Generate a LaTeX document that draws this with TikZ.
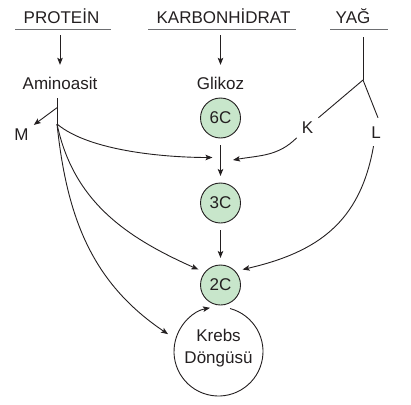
\documentclass[tikz,border=0pt]{standalone}
\usepackage{fontspec}
\setmainfont{Liberation Sans}
\usetikzlibrary{arrows.meta,positioning}
\definecolor{ink}{HTML}{231F20}
\definecolor{rulegray}{HTML}{6D6E71}
\definecolor{leaf}{HTML}{C8E6CB}

\begin{document}
\begin{tikzpicture}[x=1pt,y=1pt,
font=\fontsize{17}{21.6}\selectfont,text=ink,
head/.style={anchor=base,inner sep=0pt,text height=12pt,text depth=0pt},
lbl/.style={anchor=base,inner sep=0pt,text height=12pt,text depth=0pt},
tag/.style={inner sep=5pt,text height=12pt,text depth=0pt},
kreb/.style={align=center,inner sep=0pt},
circ/.style={circle,draw=ink,fill=leaf,line width=0.9pt,minimum size=40pt,
inner sep=0pt,outer sep=7pt},
bar/.style={draw=rulegray,line width=1.3pt},
wire/.style={draw=ink,line width=0.9pt},
arr/.style={wire,-{Stealth[length=7pt,width=5.5pt,inset=1.5pt]}},
drop/.style={arr,shorten <=11.7pt,shorten >=12.5pt}
]
\useasboundingbox (0,0) rectangle (411,-404);
% headings
\node[head] (pro)  at (61.5,-23.3)  {PROTEİN};
\node[head] (karb) at (223.5,-23.3) {KARBONHİDRAT};
\node[head] (yag)  at (353,-23.3)   {YAĞ};
\draw[bar] (15,-29.3) -- (111,-29.3);
\draw[bar] (148.3,-29.3) -- (295.7,-29.3);
\draw[bar] (330,-29.3) -- (388.3,-29.3);
% products
\node[lbl] (amino) at (60,-89.5)    {Aminoasit};
\node[lbl] (glik)  at (220.5,-89.5) {Glikoz};
\node[circ] (c6) at (220.5,-118) {6C};
\node[circ] (c3) at (220.5,-203) {3C};
\node[circ] (c2) at (220.5,-285) {2C};
\node[kreb] (krebs) at (218.5,-348) {Krebs\\Döngüsü};
\coordinate (kc) at (218.5,-351.5);
\node[tag] (M) at (21.5,-134) {M};
\node[tag] (K) at (307.5,-127) {K};
\node[tag,inner sep=8pt] (L) at (376,-132) {L};
% junctions
\coordinate (aj) at (57,-124);
\coordinate (am) at (57,-107.7);
\coordinate (yj) at (363,-80);
\coordinate (jl) at (212.5,-157.5);
\coordinate (jr) at (233,-160);
\draw[drop] (pro.south -| amino) -- (amino.north);
\draw[drop] (karb.south -| glik) -- (glik.north);
\draw[wire,shorten <=8.5pt] (amino.south -| aj) -- (aj);
\draw[arr] (am) -- (M);
\draw[wire,shorten <=13.7pt] (yag.south -| yj) -- (yj);
\draw[wire] (yj) -- (K);
\draw[wire] (yj) -- ([xshift=2pt]L.north);
\foreach \a/\b in {c6/c3,c3/c2}
\draw[arr] (\a) -- (\b);
\draw[arr] (aj) to[out=-40,in=180,looseness=0.7] (jl);
\draw[arr] (K) to[out=-135,in=10] (jr);
\draw[arr] (aj) to[out=-78,in=156] (c2.145);
\draw[arr] (L) to[out=-100,in=13,looseness=1.1] (c2.35);
\draw[arr] (aj) to[out=-84,in=146] ([shift={(161:53.4)}]kc);
\draw[arr] ([shift={(75:44.5)}]kc) arc[start angle=75,end angle=-259,radius=44.5];
\end{tikzpicture}
\end{document}
